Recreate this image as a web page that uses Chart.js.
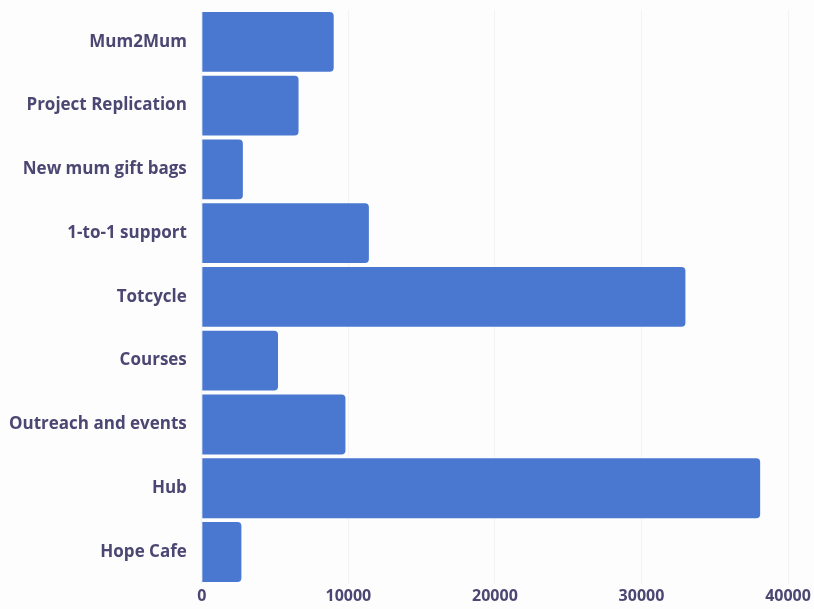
<!DOCTYPE html>
<html>
<head>
<meta charset="utf-8">
<script src="https://cdn.jsdelivr.net/npm/chart.js@4/dist/chart.umd.min.js"></script>
<style>
  html, body { margin: 0; padding: 0; background: #fdfdfd; }
  #wrap { width: 814px; height: 609px; }
</style>
</head>
<body>
<div id="wrap"><canvas id="grafica"></canvas></div>
<script>
  // proyectos y cantidades
  const proyectos = [
    'Mum2Mum',
    'Project Replication',
    'New mum gift bags',
    '1-to-1 support',
    'Totcycle',
    'Courses',
    'Outreach and events',
    'Hub',
    'Hope Cafe'
  ];
  const cantidades = [9000, 6600, 2800, 11400, 33000, 5200, 9800, 38100, 2700];
  const marcasX = [0, 10000, 20000, 30000, 40000];

  const colorTexto = '#4b4772';

  const ctx = document.getElementById('grafica').getContext('2d');
  window.miGrafica = new Chart(ctx, {
    type: 'bar',
    data: {
      labels: proyectos,
      datasets: [{
        data: cantidades,
        backgroundColor: '#4a78d0',
        borderRadius: 4,
        borderSkipped: 'start',
        barPercentage: 0.94,
        categoryPercentage: 1
      }]
    },
    options: {
      indexAxis: 'y',
      responsive: true,
      maintainAspectRatio: false,
      animation: false,
      layout: { padding: { top: 10, right: 26, bottom: 0, left: 2 } },
      plugins: {
        legend: { display: false },
        tooltip: { enabled: false }
      },
      scales: {
        x: {
          min: marcasX[0],
          max: marcasX[marcasX.length - 1],
          afterBuildTicks: eje => { eje.ticks = marcasX.map(v => ({ value: v })); },
          grid: { color: 'rgba(0,0,0,0.04)', drawTicks: false },
          border: { display: false },
          ticks: {
            padding: 3,
            color: colorTexto,
            font: { family: 'Open Sans', size: 16, weight: 'bold' },
            callback: v => String(v)
          }
        },
        y: {
          // sin margen extra arriba para la primera etiqueta
          afterFit: eje => { eje.paddingTop = 0; eje.paddingBottom = 0; },
          grid: { display: false },
          border: { display: false },
          ticks: {
            padding: 7,
            color: colorTexto,
            font: { family: 'Open Sans', size: 17, weight: 'bold' }
          }
        }
      }
    }
  });
</script>
</body>
</html>
